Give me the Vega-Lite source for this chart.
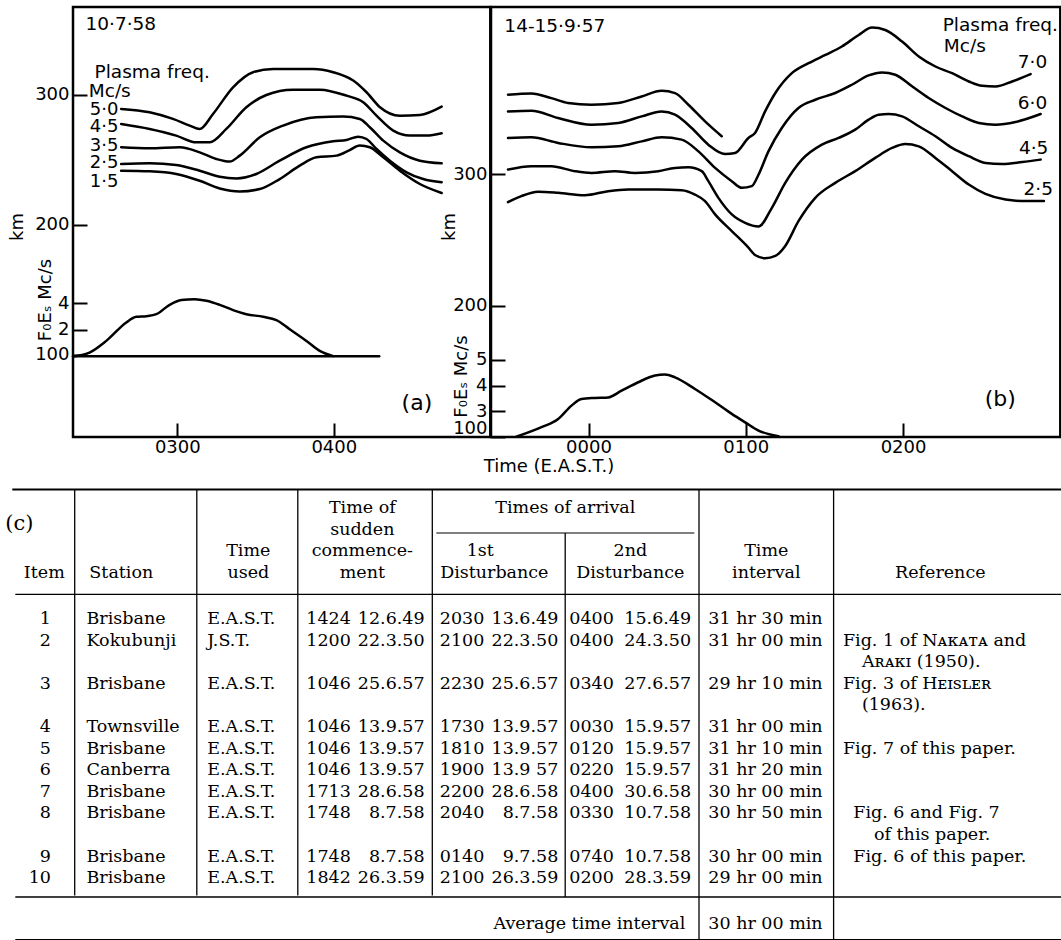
{
"$schema": "https://vega.github.io/schema/vega-lite/v6.json",
"background": "white",
"padding": {"left": 5, "top": 5, "right": 0, "bottom": 0},
"bounds": "flush",
"spacing": 474,
"datasets": {
"a_km": [
{"c":"5·0","t":2.641,"km":289.0},{"c":"5·0","t":2.823,"km":286.4},{"c":"5·0","t":2.972,"km":281.3},{"c":"5·0","t":3.079,"km":276.2},{"c":"5·0","t":3.143,"km":273.6},{"c":"5·0","t":3.228,"km":285.1},{"c":"5·0","t":3.356,"km":305.6},{"c":"5·0","t":3.484,"km":317.2},{"c":"5·0","t":3.612,"km":319.7},{"c":"5·0","t":3.868,"km":319.7},{"c":"5·0","t":3.996,"km":317.2},{"c":"5·0","t":4.124,"km":310.8},{"c":"5·0","t":4.209,"km":301.8},{"c":"5·0","t":4.295,"km":290.3},{"c":"5·0","t":4.422,"km":283.8},{"c":"5·0","t":4.550,"km":284.4},{"c":"5·0","t":4.689,"km":290.8},
{"c":"4·5","t":2.641,"km":277.4},{"c":"4·5","t":2.823,"km":273.6},{"c":"4·5","t":2.993,"km":268.5},{"c":"4·5","t":3.122,"km":263.3},{"c":"4·5","t":3.207,"km":263.3},{"c":"4·5","t":3.313,"km":273.6},{"c":"4·5","t":3.441,"km":290.3},{"c":"4·5","t":3.569,"km":299.7},{"c":"4·5","t":3.740,"km":303.8},{"c":"4·5","t":3.911,"km":303.8},{"c":"4·5","t":4.081,"km":299.2},{"c":"4·5","t":4.188,"km":294.1},{"c":"4·5","t":4.273,"km":283.8},{"c":"4·5","t":4.380,"km":272.3},{"c":"4·5","t":4.486,"km":268.5},{"c":"4·5","t":4.593,"km":268.5},{"c":"4·5","t":4.689,"km":270.3},
{"c":"3·5","t":2.641,"km":259.5},{"c":"3·5","t":2.823,"km":258.7},{"c":"3·5","t":3.015,"km":259.5},{"c":"3·5","t":3.143,"km":255.6},{"c":"3·5","t":3.249,"km":250.5},{"c":"3·5","t":3.335,"km":248.5},{"c":"3·5","t":3.399,"km":253.1},{"c":"3·5","t":3.527,"km":267.2},{"c":"3·5","t":3.676,"km":276.2},{"c":"3·5","t":3.889,"km":282.6},{"c":"3·5","t":4.060,"km":283.1},{"c":"3·5","t":4.166,"km":281.3},{"c":"3·5","t":4.230,"km":274.9},{"c":"3·5","t":4.316,"km":264.6},{"c":"3·5","t":4.422,"km":255.6},{"c":"3·5","t":4.550,"km":249.2},{"c":"3·5","t":4.689,"km":247.2},
{"c":"2·5","t":2.641,"km":246.7},{"c":"2·5","t":2.823,"km":247.2},{"c":"2·5","t":2.993,"km":245.9},{"c":"2·5","t":3.143,"km":241.5},{"c":"2·5","t":3.271,"km":236.9},{"c":"2·5","t":3.377,"km":235.6},{"c":"2·5","t":3.505,"km":239.0},{"c":"2·5","t":3.654,"km":249.2},{"c":"2·5","t":3.825,"km":259.5},{"c":"2·5","t":3.996,"km":264.1},{"c":"2·5","t":4.081,"km":265.1},{"c":"2·5","t":4.156,"km":267.7},{"c":"2·5","t":4.209,"km":265.9},{"c":"2·5","t":4.273,"km":258.2},{"c":"2·5","t":4.358,"km":249.2},{"c":"2·5","t":4.465,"km":240.3},{"c":"2·5","t":4.571,"km":235.1},{"c":"2·5","t":4.689,"km":232.6},
{"c":"1·5","t":2.641,"km":241.5},{"c":"1·5","t":2.823,"km":241.0},{"c":"1·5","t":2.993,"km":239.0},{"c":"1·5","t":3.143,"km":233.8},{"c":"1·5","t":3.271,"km":227.9},{"c":"1·5","t":3.399,"km":225.6},{"c":"1·5","t":3.527,"km":227.4},{"c":"1·5","t":3.654,"km":235.1},{"c":"1·5","t":3.782,"km":245.4},{"c":"1·5","t":3.889,"km":251.8},{"c":"1·5","t":4.017,"km":253.1},{"c":"1·5","t":4.102,"km":257.4},{"c":"1·5","t":4.166,"km":260.8},{"c":"1·5","t":4.230,"km":259.5},{"c":"1·5","t":4.316,"km":251.8},{"c":"1·5","t":4.422,"km":241.5},{"c":"1·5","t":4.550,"km":231.3},{"c":"1·5","t":4.689,"km":224.4}
],
"a_fo": [
{"c":"FoEs","t":2.343,"fo":0},{"c":"FoEs","t":2.439,"fo":0.27},{"c":"FoEs","t":2.546,"fo":1.16},{"c":"FoEs","t":2.674,"fo":2.56},{"c":"FoEs","t":2.738,"fo":2.99},{"c":"FoEs","t":2.802,"fo":3.04},{"c":"FoEs","t":2.866,"fo":3.19},{"c":"FoEs","t":2.951,"fo":3.90},{"c":"FoEs","t":3.026,"fo":4.26},{"c":"FoEs","t":3.111,"fo":4.33},{"c":"FoEs","t":3.186,"fo":4.21},{"c":"FoEs","t":3.271,"fo":3.90},{"c":"FoEs","t":3.356,"fo":3.50},{"c":"FoEs","t":3.441,"fo":3.19},{"c":"FoEs","t":3.548,"fo":2.99},{"c":"FoEs","t":3.633,"fo":2.74},{"c":"FoEs","t":3.718,"fo":2.05},{"c":"FoEs","t":3.825,"fo":1.16},{"c":"FoEs","t":3.910,"fo":0.40},{"c":"FoEs","t":3.996,"fo":0},
{"c":"base","t":2.3333,"fo":0},{"c":"base","t":4.29,"fo":0}
],
"a_lab_r": [
{"t":2.624,"km":288.5,"s":"5·0"},{"t":2.624,"km":275.4,"s":"4·5"},{"t":2.624,"km":260.2,"s":"3·5"},{"t":2.624,"km":247.3,"s":"2·5"},{"t":2.624,"km":233.1,"s":"1·5"}
],
"a_lab_l": [
{"t":2.471,"km":317.2,"s":"Plasma freq."},{"t":2.434,"km":302.5,"s":"Mc/s"},{"t":2.413,"km":354.2,"s":"10·7·58"}
],
"a_tag": [{"t":4.531,"km":63.1,"s":"(a)"}],
"b_km": [
{"c":"A","t":-0.512,"km":360.6},{"c":"A","t":-0.363,"km":361.6},{"c":"A","t":-0.236,"km":358.0},{"c":"A","t":-0.130,"km":354.3},{"c":"A","t":0.019,"km":353.0},{"c":"A","t":0.189,"km":354.3},{"c":"A","t":0.338,"km":359.3},{"c":"A","t":0.465,"km":363.6},{"c":"A","t":0.550,"km":361.8},{"c":"A","t":0.635,"km":353.0},{"c":"A","t":0.741,"km":340.3},{"c":"A","t":0.847,"km":329.0},
{"c":"7·0","t":-0.512,"km":347.9},{"c":"7·0","t":-0.363,"km":348.4},{"c":"7·0","t":-0.193,"km":342.9},{"c":"7·0","t":0.019,"km":337.8},{"c":"7·0","t":0.189,"km":339.1},{"c":"7·0","t":0.338,"km":344.1},{"c":"7·0","t":0.465,"km":347.9},{"c":"7·0","t":0.550,"km":345.4},{"c":"7·0","t":0.656,"km":335.3},{"c":"7·0","t":0.762,"km":322.6},{"c":"7·0","t":0.868,"km":315.5},{"c":"7·0","t":0.932,"km":316.3},{"c":"7·0","t":1.017,"km":327.7},{"c":"7·0","t":1.059,"km":331.5},{"c":"7·0","t":1.123,"km":347.9},{"c":"7·0","t":1.188,"km":361.9},{"c":"7·0","t":1.293,"km":377.0},{"c":"7·0","t":1.399,"km":384.6},{"c":"7·0","t":1.506,"km":390.9},{"c":"7·0","t":1.611,"km":397.3},{"c":"7·0","t":1.718,"km":406.1},{"c":"7·0","t":1.803,"km":411.7},{"c":"7·0","t":1.887,"km":409.9},{"c":"7·0","t":1.994,"km":401.1},{"c":"7·0","t":2.100,"km":389.7},{"c":"7·0","t":2.206,"km":382.1},{"c":"7·0","t":2.312,"km":377.0},{"c":"7·0","t":2.418,"km":370.7},{"c":"7·0","t":2.503,"km":367.4},{"c":"7·0","t":2.588,"km":366.9},{"c":"7·0","t":2.694,"km":370.7},{"c":"7·0","t":2.811,"km":376.3},
{"c":"6·0","t":-0.512,"km":327.7},{"c":"6·0","t":-0.363,"km":328.2},{"c":"6·0","t":-0.193,"km":323.9},{"c":"6·0","t":0.019,"km":320.6},{"c":"6·0","t":0.189,"km":321.3},{"c":"6·0","t":0.338,"km":325.1},{"c":"6·0","t":0.465,"km":328.2},{"c":"6·0","t":0.592,"km":326.4},{"c":"6·0","t":0.699,"km":317.5},{"c":"6·0","t":0.805,"km":304.9},{"c":"6·0","t":0.911,"km":294.8},{"c":"6·0","t":0.975,"km":289.7},{"c":"6·0","t":1.038,"km":291.0},{"c":"6·0","t":1.080,"km":299.5},{"c":"6·0","t":1.144,"km":317.5},{"c":"6·0","t":1.229,"km":335.3},{"c":"6·0","t":1.335,"km":350.5},{"c":"6·0","t":1.442,"km":356.8},{"c":"6·0","t":1.569,"km":361.9},{"c":"6·0","t":1.675,"km":368.2},{"c":"6·0","t":1.781,"km":375.3},{"c":"6·0","t":1.866,"km":377.6},{"c":"6·0","t":1.951,"km":375.8},{"c":"6·0","t":2.057,"km":367.0},{"c":"6·0","t":2.163,"km":358.1},{"c":"6·0","t":2.270,"km":350.5},{"c":"6·0","t":2.376,"km":344.1},{"c":"6·0","t":2.482,"km":339.1},{"c":"6·0","t":2.588,"km":337.8},{"c":"6·0","t":2.715,"km":339.8},{"c":"6·0","t":2.875,"km":345.9},
{"c":"4·5","t":-0.512,"km":303.6},{"c":"4·5","t":-0.363,"km":306.2},{"c":"4·5","t":-0.236,"km":306.2},{"c":"4·5","t":-0.087,"km":302.4},{"c":"4·5","t":0.019,"km":301.1},{"c":"4·5","t":0.168,"km":302.4},{"c":"4·5","t":0.295,"km":301.1},{"c":"4·5","t":0.444,"km":302.4},{"c":"4·5","t":0.550,"km":304.9},{"c":"4·5","t":0.635,"km":305.4},{"c":"4·5","t":0.720,"km":302.4},{"c":"4·5","t":0.762,"km":294.8},{"c":"4·5","t":0.826,"km":282.1},{"c":"4·5","t":0.911,"km":269.5},{"c":"4·5","t":0.996,"km":263.1},{"c":"4·5","t":1.081,"km":260.3},{"c":"4·5","t":1.166,"km":274.5},{"c":"4·5","t":1.251,"km":293.5},{"c":"4·5","t":1.357,"km":311.2},{"c":"4·5","t":1.484,"km":322.6},{"c":"4·5","t":1.590,"km":327.7},{"c":"4·5","t":1.696,"km":334.0},{"c":"4·5","t":1.781,"km":341.6},{"c":"4·5","t":1.845,"km":345.4},{"c":"4·5","t":1.909,"km":345.9},{"c":"4·5","t":1.994,"km":344.1},{"c":"4·5","t":2.100,"km":336.6},{"c":"4·5","t":2.206,"km":329.0},{"c":"4·5","t":2.312,"km":320.1},{"c":"4·5","t":2.418,"km":313.8},{"c":"4·5","t":2.524,"km":308.7},{"c":"4·5","t":2.631,"km":307.9},{"c":"4·5","t":2.758,"km":309.4},{"c":"4·5","t":2.875,"km":311.2},
{"c":"2·5","t":-0.512,"km":278.8},{"c":"2·5","t":-0.427,"km":283.4},{"c":"2·5","t":-0.321,"km":286.7},{"c":"2·5","t":-0.193,"km":285.9},{"c":"2·5","t":-0.023,"km":284.1},{"c":"2·5","t":0.125,"km":287.2},{"c":"2·5","t":0.253,"km":288.4},{"c":"2·5","t":0.444,"km":288.4},{"c":"2·5","t":0.592,"km":287.9},{"c":"2·5","t":0.677,"km":284.6},{"c":"2·5","t":0.741,"km":279.6},{"c":"2·5","t":0.805,"km":269.5},{"c":"2·5","t":0.911,"km":256.8},{"c":"2·5","t":1.017,"km":244.2},{"c":"2·5","t":1.059,"km":238.6},{"c":"2·5","t":1.123,"km":236.1},{"c":"2·5","t":1.188,"km":237.9},{"c":"2·5","t":1.251,"km":245.5},{"c":"2·5","t":1.336,"km":264.5},{"c":"2·5","t":1.442,"km":282.1},{"c":"2·5","t":1.569,"km":293.5},{"c":"2·5","t":1.696,"km":302.4},{"c":"2·5","t":1.823,"km":312.5},{"c":"2·5","t":1.930,"km":320.1},{"c":"2·5","t":2.015,"km":323.1},{"c":"2·5","t":2.100,"km":321.3},{"c":"2·5","t":2.206,"km":312.5},{"c":"2·5","t":2.312,"km":302.4},{"c":"2·5","t":2.418,"km":292.2},{"c":"2·5","t":2.524,"km":285.1},{"c":"2·5","t":2.652,"km":280.8},{"c":"2·5","t":2.779,"km":279.6},{"c":"2·5","t":2.896,"km":279.6}
],
"b_fo": [
{"c":"FoEs","t":-0.459,"fo":2.01},{"c":"FoEs","t":-0.299,"fo":2.38},{"c":"FoEs","t":-0.193,"fo":2.70},{"c":"FoEs","t":-0.108,"fo":3.22},{"c":"FoEs","t":-0.045,"fo":3.48},{"c":"FoEs","t":0.040,"fo":3.52},{"c":"FoEs","t":0.125,"fo":3.54},{"c":"FoEs","t":0.210,"fo":3.80},{"c":"FoEs","t":0.316,"fo":4.13},{"c":"FoEs","t":0.423,"fo":4.39},{"c":"FoEs","t":0.486,"fo":4.43},{"c":"FoEs","t":0.550,"fo":4.32},{"c":"FoEs","t":0.677,"fo":3.87},{"c":"FoEs","t":0.805,"fo":3.35},{"c":"FoEs","t":0.911,"fo":2.90},{"c":"FoEs","t":0.996,"fo":2.57},{"c":"FoEs","t":1.081,"fo":2.25},{"c":"FoEs","t":1.208,"fo":2.03}
],
"b_lab_r": [
{"t":2.917,"km":385.9,"s":"7·0"},{"t":2.917,"km":354.2,"s":"6·0"},{"t":2.924,"km":320.0,"s":"4·5"},{"t":2.953,"km":288.5,"s":"2·5"}
],
"b_lab_l": [
{"t":-0.535,"km":413.2,"s":"14-15·9·57"},{"t":2.259,"km":398.0,"s":"Mc/s"}
],
"b_plasma": [{"t":2.252,"km":414.0,"s":"Plasma freq."}],
"b_tag": [{"t":2.618,"km":129.3,"s":"(b)"}],
"rows": [
{"item":1,"line":0,"station":"Brisbane","tz":"E.A.S.T.","sct":"1424","scd":"12.6.49","d1t":"2030","d1d":"13.6.49","d2t":"0400","d2d":"15.6.49","interval":"31 hr 30 min","ref":""},
{"item":2,"line":1,"station":"Kokubunji","tz":"J.S.T.","sct":"1200","scd":"22.3.50","d1t":"2100","d1d":"22.3.50","d2t":"0400","d2d":"24.3.50","interval":"31 hr 00 min","ref":"Fig. 1 of Nᴀᴋᴀᴛᴀ and"},
{"item":3,"line":3,"station":"Brisbane","tz":"E.A.S.T.","sct":"1046","scd":"25.6.57","d1t":"2230","d1d":"25.6.57","d2t":"0340","d2d":"27.6.57","interval":"29 hr 10 min","ref":"Fig. 3 of Hᴇɪsʟᴇʀ"},
{"item":4,"line":5,"station":"Townsville","tz":"E.A.S.T.","sct":"1046","scd":"13.9.57","d1t":"1730","d1d":"13.9.57","d2t":"0030","d2d":"15.9.57","interval":"31 hr 00 min","ref":""},
{"item":5,"line":6,"station":"Brisbane","tz":"E.A.S.T.","sct":"1046","scd":"13.9.57","d1t":"1810","d1d":"13.9.57","d2t":"0120","d2d":"15.9.57","interval":"31 hr 10 min","ref":"Fig. 7 of this paper."},
{"item":6,"line":7,"station":"Canberra","tz":"E.A.S.T.","sct":"1046","scd":"13.9.57","d1t":"1900","d1d":"13.9 57","d2t":"0220","d2d":"15.9.57","interval":"31 hr 20 min","ref":""},
{"item":7,"line":8,"station":"Brisbane","tz":"E.A.S.T.","sct":"1713","scd":"28.6.58","d1t":"2200","d1d":"28.6.58","d2t":"0400","d2d":"30.6.58","interval":"30 hr 00 min","ref":""},
{"item":8,"line":9,"station":"Brisbane","tz":"E.A.S.T.","sct":"1748","scd":"8.7.58","d1t":"2040","d1d":"8.7.58","d2t":"0330","d2d":"10.7.58","interval":"30 hr 50 min","ref":"Fig. 6 and Fig. 7"},
{"item":9,"line":11,"station":"Brisbane","tz":"E.A.S.T.","sct":"1748","scd":"8.7.58","d1t":"0140","d1d":"9.7.58","d2t":"0740","d2d":"10.7.58","interval":"30 hr 00 min","ref":"Fig. 6 of this paper."},
{"item":10,"line":12,"station":"Brisbane","tz":"E.A.S.T.","sct":"1842","scd":"26.3.59","d1t":"2100","d1d":"26.3.59","d2t":"0200","d2d":"28.3.59","interval":"29 hr 00 min","ref":""}
],
"refc": [
{"line":2,"text":"Aʀᴀᴋɪ (1950)."},{"line":4,"text":"(1963)."},{"line":10,"text":"of this paper."}
],
"hdr": [
{"line":-5,"sc":"Time of","arr":"Times of arrival"},
{"line":-4,"sc":"sudden"},
{"line":-3,"tu":"Time","sc":"commence-","d1a":"1st","d2":"2nd","iv":"Time"},
{"line":-2,"item":"Item","st":"Station","tu":"used","sc":"ment","d1":"Disturbance","d2":"Disturbance","iv":"interval","ref":"Reference"}
],
"avg": [{"line":14,"label":"Average time interval","interval":"30 hr 00 min"}],
"one": [{"s":"(c)"}]
},
"vconcat": [
{
"hconcat": [
{
"width": 417.3, "height": 430,
"encoding": {"x": {"field": "t", "type": "quantitative", "scale": {"domain": [2.3333, 5.0], "zero": false, "nice": false},
  "axis": {"values": [3, 4], "labelExpr": "'0' + datum.value + '00'", "labelPadding": 15.5, "title": null}}},
"layer": [
 {"encoding": {"y": {"field": "km", "type": "quantitative", "scale": {"domain": [36.9, 367.3], "zero": false, "nice": false},
   "axis": {"values": [100, 200, 300], "title": "km", "titleX": -56, "titleY": 219.5, "titleAngle": 270, "titleAlign": "center", "titleBaseline": "middle"}}},
  "layer": [
   {"data": {"name": "a_km"}, "mark": {"type": "line"}, "encoding": {"detail": {"field": "c"}}},
   {"data": {"name": "a_lab_r"}, "mark": {"type": "text", "font": "DejaVu Sans", "fontSize": 18, "align": "right", "baseline": "middle"}, "encoding": {"text": {"field": "s"}}},
   {"data": {"name": "a_lab_l"}, "mark": {"type": "text", "font": "DejaVu Sans", "fontSize": 18.5, "align": "left", "baseline": "middle"}, "encoding": {"text": {"field": "s"}}},
   {"data": {"name": "a_tag"}, "mark": {"type": "text", "font": "DejaVu Sans", "fontSize": 22, "align": "center", "baseline": "middle"}, "encoding": {"text": {"field": "s"}}}
  ]},
 {"encoding": {"y": {"field": "fo", "type": "quantitative", "scale": {"domain": [-6.14, 26.52], "zero": false, "nice": false},
   "axis": {"orient": "left", "values": [2, 4], "title": "F₀Eₛ Mc/s", "titleX": -28, "titleY": 292.5, "titleAngle": 270, "titleAlign": "center", "titleBaseline": "middle"}}},
  "layer": [
   {"data": {"name": "a_fo"}, "mark": {"type": "line"}, "encoding": {"detail": {"field": "c"}}}
  ]}
],
"resolve": {"scale": {"y": "independent"}, "axis": {"y": "independent"}}
},
{
"width": 569.3, "height": 430,
"encoding": {"x": {"field": "t", "type": "quantitative", "scale": {"domain": [-0.62, 3.0], "zero": false, "nice": false},
  "axis": {"values": [0, 1, 2], "labelExpr": "'0' + datum.value + '00'", "labelPadding": 15.5, "title": "Time (E.A.S.T.)", "titleX": 57.5, "titleY": 29.5, "titleAngle": 0, "titleAlign": "center", "titleBaseline": "middle"}}},
"layer": [
 {"encoding": {"y": {"field": "km", "type": "quantitative", "scale": {"domain": [100, 427.4], "zero": false, "nice": false},
   "axis": {"values": [100, 200, 300], "labelFlush": true, "title": "km", "titleX": -42, "titleY": 219.5, "titleAngle": 270, "titleAlign": "center", "titleBaseline": "middle"}}},
  "layer": [
   {"data": {"name": "b_km"}, "mark": {"type": "line"}, "encoding": {"detail": {"field": "c"}}},
   {"data": {"name": "b_lab_r"}, "mark": {"type": "text", "font": "DejaVu Sans", "fontSize": 18.5, "align": "right", "baseline": "middle"}, "encoding": {"text": {"field": "s"}}},
   {"data": {"name": "b_lab_l"}, "mark": {"type": "text", "font": "DejaVu Sans", "fontSize": 18.5, "align": "left", "baseline": "middle"}, "encoding": {"text": {"field": "s"}}},
   {"data": {"name": "b_plasma"}, "mark": {"type": "text", "font": "DejaVu Sans", "fontSize": 18.5, "align": "left", "baseline": "middle", "clip": true}, "encoding": {"text": {"field": "s"}}},
   {"data": {"name": "b_tag"}, "mark": {"type": "text", "font": "DejaVu Sans", "fontSize": 22, "align": "center", "baseline": "middle"}, "encoding": {"text": {"field": "s"}}}
  ]},
 {"encoding": {"y": {"field": "fo", "type": "quantitative", "scale": {"domain": [2.0, 18.73], "zero": false, "nice": false},
   "axis": {"orient": "left", "values": [3, 4, 5], "title": "F₀Eₛ Mc/s", "titleX": -29.5, "titleY": 369, "titleAngle": 270, "titleAlign": "center", "titleBaseline": "middle"}}},
  "layer": [
   {"data": {"name": "b_fo"}, "mark": {"type": "line"}, "encoding": {"detail": {"field": "c"}}}
  ]}
],
"resolve": {"scale": {"y": "independent"}, "axis": {"y": "independent"}}
}
],
"spacing": 0,
"bounds": "flush"
},
{
"width": 988.3, "height": 460,
"view": {"stroke": null},
"layer": [
 {"data": {"name": "rows"}, "mark": {"type": "text", "font": "DejaVu Serif", "fontSize": 17.5, "baseline": "middle", "align": "right"},
  "encoding": {"x": {"datum": 50.7, "type": "quantitative", "scale": {"domain": [0, 1061], "range": [-72.7, 988.3], "zero": false, "nice": false}, "axis": null},
   "y": {"field": "line", "type": "quantitative", "scale": {"domain": [-6.3889, 14.9074], "range": [0, 460], "zero": false, "nice": false}, "axis": null}, "text": {"field": "item"}}},
 {"data": {"name": "rows"}, "mark": {"type": "text", "font": "DejaVu Serif", "fontSize": 17.5, "baseline": "middle", "align": "left"},
  "encoding": {"x": {"datum": 86.2, "type": "quantitative", "scale": {"domain": [0, 1061], "range": [-72.7, 988.3], "zero": false, "nice": false}, "axis": null},
   "y": {"field": "line", "type": "quantitative", "scale": {"domain": [-6.3889, 14.9074], "range": [0, 460], "zero": false, "nice": false}, "axis": null}, "text": {"field": "station"}}},
 {"data": {"name": "rows"}, "mark": {"type": "text", "font": "DejaVu Serif", "fontSize": 17.5, "baseline": "middle", "align": "left"},
  "encoding": {"x": {"datum": 206.9, "type": "quantitative", "scale": {"domain": [0, 1061], "range": [-72.7, 988.3], "zero": false, "nice": false}, "axis": null},
   "y": {"field": "line", "type": "quantitative", "scale": {"domain": [-6.3889, 14.9074], "range": [0, 460], "zero": false, "nice": false}, "axis": null}, "text": {"field": "tz"}}},
 {"data": {"name": "rows"}, "mark": {"type": "text", "font": "DejaVu Serif", "fontSize": 17.5, "baseline": "middle", "align": "left"},
  "encoding": {"x": {"datum": 306, "type": "quantitative", "scale": {"domain": [0, 1061], "range": [-72.7, 988.3], "zero": false, "nice": false}, "axis": null},
   "y": {"field": "line", "type": "quantitative", "scale": {"domain": [-6.3889, 14.9074], "range": [0, 460], "zero": false, "nice": false}, "axis": null}, "text": {"field": "sct"}}},
 {"data": {"name": "rows"}, "mark": {"type": "text", "font": "DejaVu Serif", "fontSize": 17.5, "baseline": "middle", "align": "right"},
  "encoding": {"x": {"datum": 424.3, "type": "quantitative", "scale": {"domain": [0, 1061], "range": [-72.7, 988.3], "zero": false, "nice": false}, "axis": null},
   "y": {"field": "line", "type": "quantitative", "scale": {"domain": [-6.3889, 14.9074], "range": [0, 460], "zero": false, "nice": false}, "axis": null}, "text": {"field": "scd"}}},
 {"data": {"name": "rows"}, "mark": {"type": "text", "font": "DejaVu Serif", "fontSize": 17.5, "baseline": "middle", "align": "left"},
  "encoding": {"x": {"datum": 439.5, "type": "quantitative", "scale": {"domain": [0, 1061], "range": [-72.7, 988.3], "zero": false, "nice": false}, "axis": null},
   "y": {"field": "line", "type": "quantitative", "scale": {"domain": [-6.3889, 14.9074], "range": [0, 460], "zero": false, "nice": false}, "axis": null}, "text": {"field": "d1t"}}},
 {"data": {"name": "rows"}, "mark": {"type": "text", "font": "DejaVu Serif", "fontSize": 17.5, "baseline": "middle", "align": "right"},
  "encoding": {"x": {"datum": 558, "type": "quantitative", "scale": {"domain": [0, 1061], "range": [-72.7, 988.3], "zero": false, "nice": false}, "axis": null},
   "y": {"field": "line", "type": "quantitative", "scale": {"domain": [-6.3889, 14.9074], "range": [0, 460], "zero": false, "nice": false}, "axis": null}, "text": {"field": "d1d"}}},
 {"data": {"name": "rows"}, "mark": {"type": "text", "font": "DejaVu Serif", "fontSize": 17.5, "baseline": "middle", "align": "left"},
  "encoding": {"x": {"datum": 569, "type": "quantitative", "scale": {"domain": [0, 1061], "range": [-72.7, 988.3], "zero": false, "nice": false}, "axis": null},
   "y": {"field": "line", "type": "quantitative", "scale": {"domain": [-6.3889, 14.9074], "range": [0, 460], "zero": false, "nice": false}, "axis": null}, "text": {"field": "d2t"}}},
 {"data": {"name": "rows"}, "mark": {"type": "text", "font": "DejaVu Serif", "fontSize": 17.5, "baseline": "middle", "align": "right"},
  "encoding": {"x": {"datum": 690.8, "type": "quantitative", "scale": {"domain": [0, 1061], "range": [-72.7, 988.3], "zero": false, "nice": false}, "axis": null},
   "y": {"field": "line", "type": "quantitative", "scale": {"domain": [-6.3889, 14.9074], "range": [0, 460], "zero": false, "nice": false}, "axis": null}, "text": {"field": "d2d"}}},
 {"data": {"name": "rows"}, "mark": {"type": "text", "font": "DejaVu Serif", "fontSize": 17.5, "baseline": "middle", "align": "left"},
  "encoding": {"x": {"datum": 708, "type": "quantitative", "scale": {"domain": [0, 1061], "range": [-72.7, 988.3], "zero": false, "nice": false}, "axis": null},
   "y": {"field": "line", "type": "quantitative", "scale": {"domain": [-6.3889, 14.9074], "range": [0, 460], "zero": false, "nice": false}, "axis": null}, "text": {"field": "interval"}}},
 {"data": {"name": "rows"}, "transform": [{"filter": "datum.ref != '' && datum.item < 8"}], "mark": {"type": "text", "font": "DejaVu Serif", "fontSize": 17.5, "baseline": "middle", "align": "left"},
  "encoding": {"x": {"datum": 842.6, "type": "quantitative", "scale": {"domain": [0, 1061], "range": [-72.7, 988.3], "zero": false, "nice": false}, "axis": null},
   "y": {"field": "line", "type": "quantitative", "scale": {"domain": [-6.3889, 14.9074], "range": [0, 460], "zero": false, "nice": false}, "axis": null}, "text": {"field": "ref"}}},
 {"data": {"name": "rows"}, "transform": [{"filter": "datum.ref != '' && datum.item >= 8"}], "mark": {"type": "text", "font": "DejaVu Serif", "fontSize": 17.5, "baseline": "middle", "align": "left"},
  "encoding": {"x": {"datum": 853, "type": "quantitative", "scale": {"domain": [0, 1061], "range": [-72.7, 988.3], "zero": false, "nice": false}, "axis": null},
   "y": {"field": "line", "type": "quantitative", "scale": {"domain": [-6.3889, 14.9074], "range": [0, 460], "zero": false, "nice": false}, "axis": null}, "text": {"field": "ref"}}},
 {"data": {"name": "refc"}, "transform": [{"filter": "datum.line < 10"}], "mark": {"type": "text", "font": "DejaVu Serif", "fontSize": 17.5, "baseline": "middle", "align": "left"},
  "encoding": {"x": {"datum": 861.6, "type": "quantitative", "scale": {"domain": [0, 1061], "range": [-72.7, 988.3], "zero": false, "nice": false}, "axis": null},
   "y": {"field": "line", "type": "quantitative", "scale": {"domain": [-6.3889, 14.9074], "range": [0, 460], "zero": false, "nice": false}, "axis": null}, "text": {"field": "text"}}},
 {"data": {"name": "refc"}, "transform": [{"filter": "datum.line >= 10"}], "mark": {"type": "text", "font": "DejaVu Serif", "fontSize": 17.5, "baseline": "middle", "align": "left"},
  "encoding": {"x": {"datum": 873.7, "type": "quantitative", "scale": {"domain": [0, 1061], "range": [-72.7, 988.3], "zero": false, "nice": false}, "axis": null},
   "y": {"field": "line", "type": "quantitative", "scale": {"domain": [-6.3889, 14.9074], "range": [0, 460], "zero": false, "nice": false}, "axis": null}, "text": {"field": "text"}}},
 {"data": {"name": "hdr"}, "transform": [{"filter": "datum.item"}], "mark": {"type": "text", "font": "DejaVu Serif", "fontSize": 17.5, "baseline": "middle", "align": "center", "dy": -3},
  "encoding": {"x": {"datum": 44, "type": "quantitative", "scale": {"domain": [0, 1061], "range": [-72.7, 988.3], "zero": false, "nice": false}, "axis": null},
   "y": {"field": "line", "type": "quantitative", "scale": {"domain": [-6.3889, 14.9074], "range": [0, 460], "zero": false, "nice": false}, "axis": null}, "text": {"field": "item"}}},
 {"data": {"name": "hdr"}, "transform": [{"filter": "datum.st"}], "mark": {"type": "text", "font": "DejaVu Serif", "fontSize": 17.5, "baseline": "middle", "align": "center", "dy": -3},
  "encoding": {"x": {"datum": 121, "type": "quantitative", "scale": {"domain": [0, 1061], "range": [-72.7, 988.3], "zero": false, "nice": false}, "axis": null},
   "y": {"field": "line", "type": "quantitative", "scale": {"domain": [-6.3889, 14.9074], "range": [0, 460], "zero": false, "nice": false}, "axis": null}, "text": {"field": "st"}}},
 {"data": {"name": "hdr"}, "transform": [{"filter": "datum.tu"}], "mark": {"type": "text", "font": "DejaVu Serif", "fontSize": 17.5, "baseline": "middle", "align": "center", "dy": -3},
  "encoding": {"x": {"datum": 248, "type": "quantitative", "scale": {"domain": [0, 1061], "range": [-72.7, 988.3], "zero": false, "nice": false}, "axis": null},
   "y": {"field": "line", "type": "quantitative", "scale": {"domain": [-6.3889, 14.9074], "range": [0, 460], "zero": false, "nice": false}, "axis": null}, "text": {"field": "tu"}}},
 {"data": {"name": "hdr"}, "transform": [{"filter": "datum.sc"}], "mark": {"type": "text", "font": "DejaVu Serif", "fontSize": 17.5, "baseline": "middle", "align": "center", "dy": -3},
  "encoding": {"x": {"datum": 362, "type": "quantitative", "scale": {"domain": [0, 1061], "range": [-72.7, 988.3], "zero": false, "nice": false}, "axis": null},
   "y": {"field": "line", "type": "quantitative", "scale": {"domain": [-6.3889, 14.9074], "range": [0, 460], "zero": false, "nice": false}, "axis": null}, "text": {"field": "sc"}}},
 {"data": {"name": "hdr"}, "transform": [{"filter": "datum.arr"}], "mark": {"type": "text", "font": "DejaVu Serif", "fontSize": 17.5, "baseline": "middle", "align": "center", "dy": -3},
  "encoding": {"x": {"datum": 565, "type": "quantitative", "scale": {"domain": [0, 1061], "range": [-72.7, 988.3], "zero": false, "nice": false}, "axis": null},
   "y": {"field": "line", "type": "quantitative", "scale": {"domain": [-6.3889, 14.9074], "range": [0, 460], "zero": false, "nice": false}, "axis": null}, "text": {"field": "arr"}}},
 {"data": {"name": "hdr"}, "transform": [{"filter": "datum.d1a"}], "mark": {"type": "text", "font": "DejaVu Serif", "fontSize": 17.5, "baseline": "middle", "align": "center", "dy": -3},
  "encoding": {"x": {"datum": 480, "type": "quantitative", "scale": {"domain": [0, 1061], "range": [-72.7, 988.3], "zero": false, "nice": false}, "axis": null},
   "y": {"field": "line", "type": "quantitative", "scale": {"domain": [-6.3889, 14.9074], "range": [0, 460], "zero": false, "nice": false}, "axis": null}, "text": {"field": "d1a"}}},
 {"data": {"name": "hdr"}, "transform": [{"filter": "datum.d1"}], "mark": {"type": "text", "font": "DejaVu Serif", "fontSize": 17.5, "baseline": "middle", "align": "center", "dy": -3},
  "encoding": {"x": {"datum": 494, "type": "quantitative", "scale": {"domain": [0, 1061], "range": [-72.7, 988.3], "zero": false, "nice": false}, "axis": null},
   "y": {"field": "line", "type": "quantitative", "scale": {"domain": [-6.3889, 14.9074], "range": [0, 460], "zero": false, "nice": false}, "axis": null}, "text": {"field": "d1"}}},
 {"data": {"name": "hdr"}, "transform": [{"filter": "datum.d2"}], "mark": {"type": "text", "font": "DejaVu Serif", "fontSize": 17.5, "baseline": "middle", "align": "center", "dy": -3},
  "encoding": {"x": {"datum": 630, "type": "quantitative", "scale": {"domain": [0, 1061], "range": [-72.7, 988.3], "zero": false, "nice": false}, "axis": null},
   "y": {"field": "line", "type": "quantitative", "scale": {"domain": [-6.3889, 14.9074], "range": [0, 460], "zero": false, "nice": false}, "axis": null}, "text": {"field": "d2"}}},
 {"data": {"name": "hdr"}, "transform": [{"filter": "datum.iv"}], "mark": {"type": "text", "font": "DejaVu Serif", "fontSize": 17.5, "baseline": "middle", "align": "center", "dy": -3},
  "encoding": {"x": {"datum": 766, "type": "quantitative", "scale": {"domain": [0, 1061], "range": [-72.7, 988.3], "zero": false, "nice": false}, "axis": null},
   "y": {"field": "line", "type": "quantitative", "scale": {"domain": [-6.3889, 14.9074], "range": [0, 460], "zero": false, "nice": false}, "axis": null}, "text": {"field": "iv"}}},
 {"data": {"name": "hdr"}, "transform": [{"filter": "datum.ref"}], "mark": {"type": "text", "font": "DejaVu Serif", "fontSize": 17.5, "baseline": "middle", "align": "center", "dy": -3},
  "encoding": {"x": {"datum": 940, "type": "quantitative", "scale": {"domain": [0, 1061], "range": [-72.7, 988.3], "zero": false, "nice": false}, "axis": null},
   "y": {"field": "line", "type": "quantitative", "scale": {"domain": [-6.3889, 14.9074], "range": [0, 460], "zero": false, "nice": false}, "axis": null}, "text": {"field": "ref"}}},
 {"data": {"name": "one"}, "mark": {"type": "text", "font": "DejaVu Serif", "fontSize": 21, "baseline": "middle", "align": "left"},
  "encoding": {"x": {"datum": 5, "type": "quantitative", "scale": {"domain": [0, 1061], "range": [-72.7, 988.3], "zero": false, "nice": false}, "axis": null},
   "y": {"datum": -4.4, "type": "quantitative", "scale": {"domain": [-6.3889, 14.9074], "range": [0, 460], "zero": false, "nice": false}, "axis": null}, "text": {"field": "s"}}},
 {"data": {"name": "avg"}, "mark": {"type": "text", "font": "DejaVu Serif", "fontSize": 17.5, "baseline": "middle", "align": "right", "dy": 3},
  "encoding": {"x": {"datum": 685, "type": "quantitative", "scale": {"domain": [0, 1061], "range": [-72.7, 988.3], "zero": false, "nice": false}, "axis": null},
   "y": {"field": "line", "type": "quantitative", "scale": {"domain": [-6.3889, 14.9074], "range": [0, 460], "zero": false, "nice": false}, "axis": null}, "text": {"field": "label"}}},
 {"data": {"name": "avg"}, "mark": {"type": "text", "font": "DejaVu Serif", "fontSize": 17.5, "baseline": "middle", "align": "left", "dy": 3},
  "encoding": {"x": {"datum": 708, "type": "quantitative", "scale": {"domain": [0, 1061], "range": [-72.7, 988.3], "zero": false, "nice": false}, "axis": null},
   "y": {"field": "line", "type": "quantitative", "scale": {"domain": [-6.3889, 14.9074], "range": [0, 460], "zero": false, "nice": false}, "axis": null}, "text": {"field": "interval"}}},
 {"data": {"name": "one"}, "mark": {"type": "rule", "strokeWidth": 2.2},
  "encoding": {"x": {"datum": 12, "type": "quantitative", "scale": {"domain": [0, 1061], "range": [-72.7, 988.3], "zero": false, "nice": false}, "axis": null}, "x2": {"datum": 1061},
   "y": {"datum": -5.995, "type": "quantitative", "scale": {"domain": [-6.3889, 14.9074], "range": [0, 460], "zero": false, "nice": false}, "axis": null}}},
 {"data": {"name": "one"}, "mark": {"type": "rule", "strokeWidth": 1.2},
  "encoding": {"x": {"datum": 436, "type": "quantitative", "scale": {"domain": [0, 1061], "range": [-72.7, 988.3], "zero": false, "nice": false}, "axis": null}, "x2": {"datum": 694},
   "y": {"datum": -3.981, "type": "quantitative", "scale": {"domain": [-6.3889, 14.9074], "range": [0, 460], "zero": false, "nice": false}, "axis": null}}},
 {"data": {"name": "one"}, "mark": {"type": "rule", "strokeWidth": 1.2},
  "encoding": {"x": {"datum": 15, "type": "quantitative", "scale": {"domain": [0, 1061], "range": [-72.7, 988.3], "zero": false, "nice": false}, "axis": null}, "x2": {"datum": 1061},
   "y": {"datum": -1.144, "type": "quantitative", "scale": {"domain": [-6.3889, 14.9074], "range": [0, 460], "zero": false, "nice": false}, "axis": null}}},
 {"data": {"name": "one"}, "mark": {"type": "rule", "strokeWidth": 1.3},
  "encoding": {"x": {"datum": 15, "type": "quantitative", "scale": {"domain": [0, 1061], "range": [-72.7, 988.3], "zero": false, "nice": false}, "axis": null}, "x2": {"datum": 1061},
   "y": {"datum": 12.87, "type": "quantitative", "scale": {"domain": [-6.3889, 14.9074], "range": [0, 460], "zero": false, "nice": false}, "axis": null}}},
 {"data": {"name": "one"}, "mark": {"type": "rule", "strokeWidth": 1},
  "encoding": {"x": {"datum": 15, "type": "quantitative", "scale": {"domain": [0, 1061], "range": [-72.7, 988.3], "zero": false, "nice": false}, "axis": null}, "x2": {"datum": 1061},
   "y": {"datum": 14.838, "type": "quantitative", "scale": {"domain": [-6.3889, 14.9074], "range": [0, 460], "zero": false, "nice": false}, "axis": null}}},
 {"data": {"name": "one"}, "mark": {"type": "rule", "strokeWidth": 1.3},
  "encoding": {"x": {"datum": 74.4, "type": "quantitative", "scale": {"domain": [0, 1061], "range": [-72.7, 988.3], "zero": false, "nice": false}, "axis": null},
   "y": {"datum": -5.995, "type": "quantitative", "scale": {"domain": [-6.3889, 14.9074], "range": [0, 460], "zero": false, "nice": false}, "axis": null}, "y2": {"datum": 12.8}}},
 {"data": {"name": "one"}, "mark": {"type": "rule", "strokeWidth": 1.3},
  "encoding": {"x": {"datum": 196.5, "type": "quantitative", "scale": {"domain": [0, 1061], "range": [-72.7, 988.3], "zero": false, "nice": false}, "axis": null},
   "y": {"datum": -5.995, "type": "quantitative", "scale": {"domain": [-6.3889, 14.9074], "range": [0, 460], "zero": false, "nice": false}, "axis": null}, "y2": {"datum": 12.8}}},
 {"data": {"name": "one"}, "mark": {"type": "rule", "strokeWidth": 1.3},
  "encoding": {"x": {"datum": 297.5, "type": "quantitative", "scale": {"domain": [0, 1061], "range": [-72.7, 988.3], "zero": false, "nice": false}, "axis": null},
   "y": {"datum": -5.995, "type": "quantitative", "scale": {"domain": [-6.3889, 14.9074], "range": [0, 460], "zero": false, "nice": false}, "axis": null}, "y2": {"datum": 12.8}}},
 {"data": {"name": "one"}, "mark": {"type": "rule", "strokeWidth": 1.3},
  "encoding": {"x": {"datum": 432, "type": "quantitative", "scale": {"domain": [0, 1061], "range": [-72.7, 988.3], "zero": false, "nice": false}, "axis": null},
   "y": {"datum": -5.995, "type": "quantitative", "scale": {"domain": [-6.3889, 14.9074], "range": [0, 460], "zero": false, "nice": false}, "axis": null}, "y2": {"datum": 12.8}}},
 {"data": {"name": "one"}, "mark": {"type": "rule", "strokeWidth": 1.3},
  "encoding": {"x": {"datum": 564.9, "type": "quantitative", "scale": {"domain": [0, 1061], "range": [-72.7, 988.3], "zero": false, "nice": false}, "axis": null},
   "y": {"datum": -3.981, "type": "quantitative", "scale": {"domain": [-6.3889, 14.9074], "range": [0, 460], "zero": false, "nice": false}, "axis": null}, "y2": {"datum": 12.87}}},
 {"data": {"name": "one"}, "mark": {"type": "rule", "strokeWidth": 1.3},
  "encoding": {"x": {"datum": 698.7, "type": "quantitative", "scale": {"domain": [0, 1061], "range": [-72.7, 988.3], "zero": false, "nice": false}, "axis": null},
   "y": {"datum": -5.995, "type": "quantitative", "scale": {"domain": [-6.3889, 14.9074], "range": [0, 460], "zero": false, "nice": false}, "axis": null}, "y2": {"datum": 14.9074}}},
 {"data": {"name": "one"}, "mark": {"type": "rule", "strokeWidth": 1.3},
  "encoding": {"x": {"datum": 833.3, "type": "quantitative", "scale": {"domain": [0, 1061], "range": [-72.7, 988.3], "zero": false, "nice": false}, "axis": null},
   "y": {"datum": -5.995, "type": "quantitative", "scale": {"domain": [-6.3889, 14.9074], "range": [0, 460], "zero": false, "nice": false}, "axis": null}, "y2": {"datum": 14.9074}}}
]
}
],
"config": {
 "view": {"stroke": "black", "strokeWidth": 2.5},
 "axis": {"domain": false, "grid": false, "ticks": true, "tickColor": "black", "tickWidth": 2, "tickSize": -14, "labelPadding": 18,
  "labelFont": "DejaVu Sans", "labelFontSize": 18, "labelColor": "black", "labelFlush": false, "labelOverlap": false,
  "titleFont": "DejaVu Sans", "titleFontSize": 18, "titleFontWeight": "normal", "titleColor": "black"},
 "line": {"color": "black", "strokeWidth": 2.5, "interpolate": "monotone", "strokeCap": "round", "strokeJoin": "round"},
 "rule": {"color": "black"},
 "text": {"color": "black"}
}
}
